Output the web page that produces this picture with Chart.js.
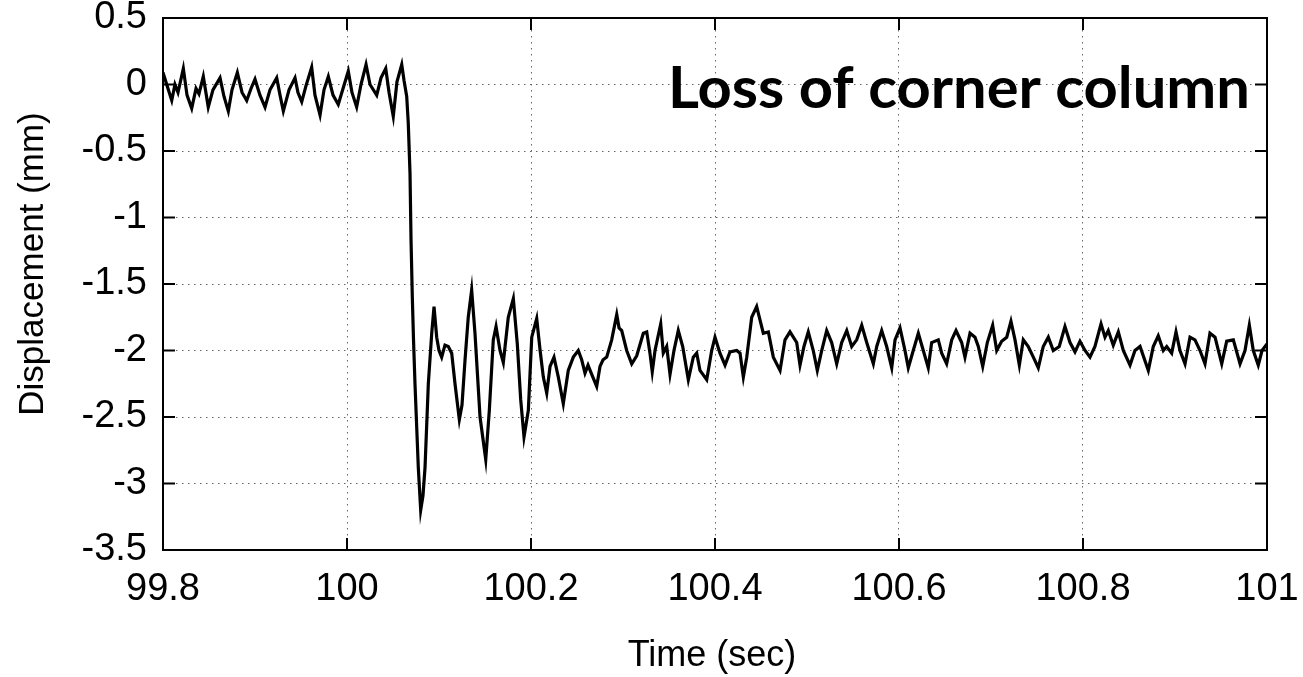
<!DOCTYPE html>
<html lang="en">
<head>
<meta charset="UTF-8">
<title>Loss of corner column</title>
<script src="https://cdn.jsdelivr.net/npm/chart.js"></script>
<style>
    html, body { margin: 0; padding: 0; background: #fff; }
    #wrap { width: 1303px; height: 677px; }
</style>
</head>
<body>
<div id="wrap"><canvas id="dispChart" width="1303" height="677"></canvas></div>
<script>
// time (sec) and displacement (mm) at peaks / troughs
var times = [
    99.8000, 99.8054, 99.8095, 99.8130, 99.8163, 99.8221, 99.8261, 99.8312, 99.8359, 99.8391,
    99.8438, 99.8492, 99.8543, 99.8620, 99.8663, 99.8710, 99.8750, 99.8808, 99.8859, 99.8910,
    99.8957, 99.9000, 99.9054, 99.9109, 99.9163, 99.9236, 99.9272, 99.9308, 99.9370, 99.9435,
    99.9467, 99.9508, 99.9554, 99.9616, 99.9652, 99.9707, 99.9750, 99.9797, 99.9848, 99.9905,
    99.9957, 100.0014, 100.0054, 100.0105, 100.0152, 100.0207, 100.0250, 100.0323, 100.0370, 100.0421,
    100.0457, 100.0503, 100.0543, 100.0595, 100.0620, 100.0649,
    100.0666, 100.0685, 100.0696, 100.0710, 100.0723, 100.0739, 100.0775, 100.0801, 100.0826, 100.0848,
    100.0884, 100.0921, 100.0946, 100.0975, 100.1000, 100.1029, 100.1065, 100.1101, 100.1138, 100.1174,
    100.1221, 100.1250, 100.1283, 100.1318, 100.1355, 100.1391, 100.1446, 100.1508, 100.1547, 100.1590,
    100.1620, 100.1663, 100.1699, 100.1753, 100.1808, 100.1851, 100.1888, 100.1924, 100.1971, 100.2008,
    100.2062, 100.2099, 100.2134, 100.2171, 100.2207, 100.2250, 100.2297, 100.2351, 100.2405, 100.2460,
    100.2514, 100.2551, 100.2587, 100.2620, 100.2660, 100.2714, 100.2750, 100.2783, 100.2823, 100.2877,
    100.2932, 100.2957, 100.2986, 100.3040, 100.3095, 100.3149, 100.3221, 100.3258, 100.3293, 100.3318,
    100.3348, 100.3410, 100.3438, 100.3475, 100.3511, 100.3554, 100.3601, 100.3649, 100.3710, 100.3764,
    100.3801, 100.3837, 100.3910, 100.3964, 100.4000, 100.4054, 100.4109, 100.4163, 100.4236, 100.4272,
    100.4308, 100.4345, 100.4399, 100.4453, 100.4489, 100.4525, 100.4580, 100.4634, 100.4707, 100.4761,
    100.4815, 100.4888, 100.4924, 100.4967, 100.5014, 100.5068, 100.5112, 100.5160, 100.5214, 100.5268,
    100.5323, 100.5377, 100.5432, 100.5486, 100.5540, 100.5595, 100.5649, 100.5721, 100.5758, 100.5812,
    100.5866, 100.5921, 100.5957, 100.6011, 100.6065, 100.6101, 100.6155, 100.6210, 100.6264, 100.6318,
    100.6355, 100.6427, 100.6464, 100.6518, 100.6573, 100.6620, 100.6681, 100.6717, 100.6772, 100.6826,
    100.6862, 100.6910, 100.6960, 100.7018, 100.7062, 100.7116, 100.7171, 100.7217, 100.7261, 100.7308,
    100.7351, 100.7405, 100.7460, 100.7514, 100.7568, 100.7623, 100.7677, 100.7742, 100.7804, 100.7859,
    100.7913, 100.7967, 100.8022, 100.8076, 100.8130, 100.8196, 100.8239, 100.8275, 100.8329, 100.8384,
    100.8438, 100.8511, 100.8565, 100.8620, 100.8710, 100.8764, 100.8818, 100.8873, 100.8910, 100.8964,
    100.9011, 100.9054, 100.9109, 100.9163, 100.9217, 100.9272, 100.9326, 100.9380, 100.9435, 100.9508,
    100.9562, 100.9634, 100.9707, 100.9761, 100.9808, 100.9851, 100.9905, 100.9946, 101.0000
];

var displacement = [
    0.09, -0.03, -0.12, 0.00, -0.06, 0.12, -0.08, -0.18, -0.03, -0.07,
    0.06, -0.17, -0.04, 0.05, -0.09, -0.20, -0.04, 0.09, -0.06, -0.12,
    -0.03, 0.04, -0.08, -0.17, -0.04, 0.05, -0.08, -0.20, -0.04, 0.05,
    -0.06, -0.13, -0.01, 0.13, -0.08, -0.23, -0.04, 0.06, -0.08, -0.15,
    -0.03, 0.10, -0.06, -0.17, 0.00, 0.15, 0.00, -0.08, 0.05, 0.12,
    -0.06, -0.24, 0.02, 0.15, 0.03, -0.09,
    -0.29, -0.67, -1.17, -1.60, -1.92, -2.25, -2.88, -3.20, -3.09, -2.88,
    -2.25, -1.87, -1.67, -1.90, -2.00, -2.05, -1.96, -1.97, -2.02, -2.25,
    -2.52, -2.41, -2.07, -1.75, -1.545, -1.87, -2.50, -2.82, -2.45, -1.92,
    -1.82, -2.00, -2.09, -1.75, -1.61, -1.95, -2.37, -2.65, -2.45, -1.90,
    -1.76, -2.00, -2.20, -2.32, -2.12, -2.05, -2.20, -2.40, -2.15, -2.05,
    -2.00, -2.07, -2.17, -2.11, -2.18, -2.27, -2.12, -2.07, -2.05, -1.92,
    -1.73, -1.83, -1.85, -2.00, -2.10, -2.04, -1.87, -1.86, -2.02, -2.16,
    -2.00, -1.80, -2.02, -1.97, -2.18, -2.00, -1.85, -1.97, -2.22, -2.05,
    -2.02, -2.15, -2.22, -2.00, -1.90, -2.02, -2.11, -2.01, -2.00, -2.02,
    -2.20, -2.05, -1.75, -1.67, -1.77, -1.87, -1.86, -2.05, -2.15, -1.92,
    -1.86, -1.94, -2.11, -1.97, -1.86, -2.00, -2.15, -2.00, -1.85, -1.94,
    -2.10, -1.94, -1.85, -1.97, -1.92, -1.81, -1.94, -2.10, -1.97, -1.85,
    -1.97, -2.13, -1.92, -1.83, -2.00, -2.13, -2.00, -1.87, -2.00, -2.13,
    -1.94, -1.92, -2.02, -2.10, -1.92, -1.85, -1.94, -2.05, -1.87, -1.90,
    -1.97, -2.12, -1.94, -1.81, -2.00, -1.93, -1.90, -1.78, -1.92, -2.11,
    -1.92, -1.97, -2.05, -2.13, -1.97, -1.90, -2.00, -1.97, -1.82, -1.94,
    -2.01, -1.93, -2.00, -2.05, -1.97, -1.80, -1.90, -1.85, -1.96, -1.86,
    -2.00, -2.11, -2.00, -1.97, -2.15, -1.97, -1.89, -2.00, -1.97, -2.02,
    -1.86, -2.00, -2.10, -1.90, -1.92, -2.00, -2.10, -1.87, -1.90, -2.10,
    -1.93, -1.92, -2.10, -2.00, -1.81, -2.00, -2.11, -2.00, -1.95
];

var xTicks = [99.8, 100, 100.2, 100.4, 100.6, 100.8, 101];
var yTicks = [0.5, 0, -0.5, -1, -1.5, -2, -2.5, -3, -3.5];

var xTitle = 'Time (sec)';
var yTitle = 'Displacement (mm)';
var noteText = 'Loss of corner column';

var points = times.map(function (t, i) { return { x: t, y: displacement[i] }; });

var labelFont = { family: "'Liberation Sans', Arial, sans-serif", size: 38 };

// box around the plot, inward tick marks, axis titles and the note
var framePlugin = {
    id: 'frame',
    afterDraw: function (chart) {
        var ctx = chart.ctx;
        var a = chart.chartArea;
        var xs = chart.scales.x;
        var ys = chart.scales.y;
        var tl = 12;

        ctx.save();
        ctx.strokeStyle = '#000';
        ctx.lineWidth = 2;
        ctx.strokeRect(a.left, a.top, a.right - a.left, a.bottom - a.top);

        ctx.beginPath();
        xTicks.forEach(function (v) {
            var px = xs.getPixelForValue(v);
            ctx.moveTo(px, a.bottom); ctx.lineTo(px, a.bottom - tl);
            ctx.moveTo(px, a.top); ctx.lineTo(px, a.top + tl);
        });
        yTicks.forEach(function (v) {
            var py = ys.getPixelForValue(v);
            ctx.moveTo(a.left, py); ctx.lineTo(a.left + tl, py);
            ctx.moveTo(a.right, py); ctx.lineTo(a.right - tl, py);
        });
        ctx.stroke();

        ctx.fillStyle = '#000';
        ctx.font = "36px 'Liberation Sans', Arial, sans-serif";
        ctx.textAlign = 'center';
        ctx.textBaseline = 'middle';
        ctx.fillText(xTitle, (a.left + a.right) / 2 - 3, 656);

        ctx.save();
        ctx.translate(33, 264);
        ctx.rotate(-Math.PI / 2);
        ctx.font = "35px 'Liberation Sans', Arial, sans-serif";
        ctx.fillText(yTitle, 0, 0);
        ctx.restore();

        // note, Calibri-like bold, stretched to the width seen in the picture
        ctx.font = "bold 57px Lato, 'Open Sans', sans-serif";
        ctx.textAlign = 'right';
        ctx.textBaseline = 'alphabetic';
        var w = ctx.measureText(noteText).width;
        var targetW = 582;
        ctx.save();
        ctx.translate(a.right - 17, 108);
        ctx.scale(targetW / w, 1);
        ctx.fillText(noteText, 0, 0);
        ctx.restore();

        ctx.restore();
    }
};

var ctxDisp = document.getElementById('dispChart').getContext('2d');
var dispChart = new Chart(ctxDisp, {
    type: 'line',
    data: {
        datasets: [{
            data: points,
            borderColor: '#000',
            borderWidth: 3.2,
            pointRadius: 0,
            tension: 0,
            fill: false
        }]
    },
    options: {
        responsive: false,
        animation: false,
        events: [],
        layout: { padding: { top: 18, right: 36, left: 0, bottom: 0 } },
        plugins: {
            legend: { display: false },
            tooltip: { enabled: false }
        },
        scales: {
            x: {
                type: 'linear',
                min: 99.8,
                max: 101,
                afterBuildTicks: function (scale) {
                    scale.ticks = xTicks.map(function (v) { return { value: v }; });
                },
                afterFit: function (scale) {
                    scale.height = 127;
                    scale.paddingLeft = 0;
                    scale.paddingRight = 0;
                },
                ticks: {
                    font: labelFont,
                    color: '#000',
                    padding: 17,
                    maxRotation: 0,
                    autoSkip: false,
                    callback: function (v) { return String(Math.round(v * 10) / 10); }
                },
                grid: {
                    color: '#666',
                    lineWidth: 1,
                    drawTicks: false
                },
                border: { display: true, color: '#000', width: 2, dash: [1.5, 4.5] }
            },
            y: {
                type: 'linear',
                min: -3.5,
                max: 0.5,
                afterBuildTicks: function (scale) {
                    scale.ticks = yTicks.map(function (v) { return { value: v }; });
                },
                afterFit: function (scale) {
                    scale.width = 163;
                    scale.paddingTop = 0;
                    scale.paddingBottom = 0;
                },
                ticks: {
                    font: labelFont,
                    color: '#000',
                    padding: 16,
                    autoSkip: false,
                    callback: function (v) { return String(Math.round(v * 10) / 10); }
                },
                grid: {
                    color: '#666',
                    lineWidth: 1,
                    drawTicks: false
                },
                border: { display: true, color: '#000', width: 2, dash: [1.5, 4.5] }
            }
        }
    },
    plugins: [framePlugin]
});
</script>
</body>
</html>
